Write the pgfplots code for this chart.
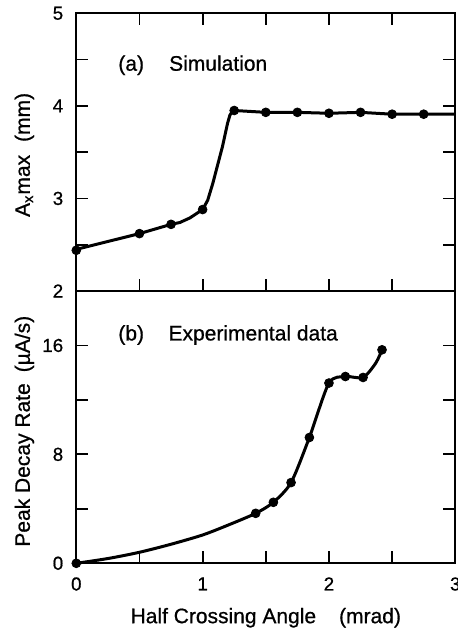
\documentclass[border=0pt]{standalone}
\usepackage{fontspec}
\setmainfont{Liberation Sans}[FakeBold=0.7]
\usepackage{pgfplots}
\pgfplotsset{compat=1.18}

\pgfplotsset{panel/.style={
    scale only axis, width=189.5pt,
    xmin=0, xmax=3,
    xtick={0,0.5,1,1.5,2,2.5,3},
    tick align=inside, major tick length=6pt,
    axis line style={line width=1pt},
    every tick/.style={line width=0.9pt, black},
    tick label style={font=\fontsize{9.4}{10}\selectfont},
    /pgf/number format/assume math mode=true,
    yticklabel style={xshift=-3pt},
    xticklabel style={yshift=-3.5pt},
    label style={font=\fontsize{10.5}{12}\selectfont},
    clip=false,
}}
\pgfplotsset{curve/.style={black, line width=1.5pt, no marks}}
\pgfplotsset{dots/.style={only marks, mark=*, mark size=2.2pt, black}}

\begin{document}
\begin{tikzpicture}
% (b) experimental data
\begin{axis}[panel,
    at={(0,0)}, anchor=south west,
    height=136.15pt,
    ymin=0, ymax=20,
    ytick={0,4,8,12,16}, yticklabels={0,,8,,16},
    xticklabels={0,,1,,2,,3},
    xtick pos=lower, ytick pos=both,
    xlabel={Half Crossing Angle\hspace{11.5pt}(mrad)},
    xlabel style={at={(axis description cs:0.5,-0.2)}, anchor=center},
    ylabel={Peak Decay Rate\hspace{5.5pt}(µA/s)},
    ylabel style={at={(axis description cs:-0.137,0.485)}, anchor=center},
]
\addplot[curve, smooth, tension=0.45] coordinates {
    (0,0) (0.25,0.35) (0.5,0.81) (0.75,1.4) (1.0,2.08) (1.2,2.8)
    (1.42,3.67) (1.56,4.48) (1.70,5.93) (1.845,9.24) (2.0,13.24)
    (2.13,13.72) (2.27,13.65) (2.37,14.7) (2.42,15.68)};
\addplot[dots] coordinates {
    (0,0) (1.42,3.67) (1.56,4.48) (1.70,5.93) (1.845,9.24) (2.0,13.24)
    (2.13,13.72) (2.27,13.65) (2.42,15.68)};
\node[anchor=base west, inner sep=0, font=\fontsize{10.5}{12}\selectfont] at (axis cs:0.33,16.37) {(b)};
\node[anchor=base west, inner sep=0, font=\fontsize{10.5}{12}\selectfont] at (axis cs:0.727,16.37) {Experimental data};
\end{axis}
% (a) simulation
\begin{axis}[panel,
    at={(0,136.15pt)}, anchor=south west,
    height=138.85pt,
    ymin=2, ymax=5,
    ytick={2,2.5,3,3.5,4,4.5,5}, yticklabels={2,,3,,4,,5},
    xticklabels={},
    xtick pos=both, ytick pos=both,
    ylabel={A\textsubscript{x}max\hspace{6.5pt}(mm)},
    ylabel style={at={(axis description cs:-0.137,0.49)}, anchor=center},
]
\addplot[curve] coordinates {
    (0,2.45) (0.5,2.62) (0.75,2.72) (0.82,2.74) (0.9,2.79) (1.0,2.88)
    (1.04,2.98) (1.08,3.16) (1.157,3.56) (1.197,3.81) (1.216,3.90)
    (1.235,3.94) (1.25,3.95) (1.5,3.93) (1.75,3.93) (2.0,3.92)
    (2.25,3.93) (2.5,3.91) (2.75,3.91) (3.0,3.91)};
\addplot[dots] coordinates {
    (0,2.44) (0.5,2.62) (0.75,2.72) (1.0,2.88) (1.25,3.95) (1.5,3.93)
    (1.75,3.93) (2.0,3.92) (2.25,3.93) (2.5,3.91) (2.75,3.91)};
\node[anchor=base west, inner sep=0, font=\fontsize{10.5}{12}\selectfont] at (axis cs:0.33,4.38) {(a)};
\node[anchor=base west, inner sep=0, font=\fontsize{10.5}{12}\selectfont] at (axis cs:0.732,4.38) {Simulation};
\end{axis}
\pgfresetboundingbox
\path[use as bounding box] (-38.15pt,-32.35pt) rectangle (190.35pt,281.65pt);
\end{tikzpicture}
\end{document}
